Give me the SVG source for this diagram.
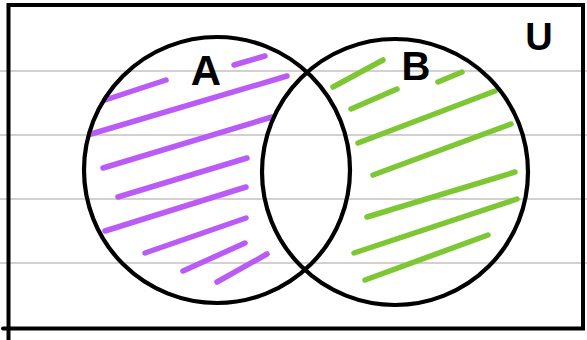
<svg xmlns="http://www.w3.org/2000/svg" width="587" height="340" viewBox="0 0 587 340">
  <style>
    .rule { stroke: #c8bfbf; stroke-width: 1.6; }
    .frame { fill: none; stroke: #000; stroke-width: 4; stroke-linecap: round; }
    .set { fill: none; stroke: #000; stroke-width: 4.2; }
    .hatchA line { stroke: #bb5bf5; stroke-width: 5.5; stroke-linecap: round; }
    .hatchB line { stroke: #7cc733; stroke-width: 5.5; stroke-linecap: round; }
    .lbl { font-family: "Liberation Sans", Arial, sans-serif; font-weight: bold; fill: #000; text-anchor: middle; }
  </style>
  <rect width="587" height="340" fill="#fff"/>
  <g id="ruled-lines">
    <line class="rule" x1="0" y1="71" x2="587" y2="71"/>
    <line class="rule" x1="0" y1="135" x2="587" y2="135"/>
    <line class="rule" x1="0" y1="199" x2="587" y2="199"/>
    <line class="rule" x1="0" y1="263" x2="587" y2="263"/>
  </g>
  <g id="universe">
    <path class="frame" d="M8.5 340 V5 H583 V328.5 H3"/>
    <text class="lbl" x="539" y="50" font-size="38">U</text>
  </g>
  <g id="set-A-hatch" class="hatchA">
    <line x1="105" y1="100" x2="166" y2="80"/>
    <line x1="234" y1="65" x2="265" y2="56"/>
    <line x1="91" y1="134" x2="287" y2="76"/>
    <line x1="103" y1="168" x2="272" y2="117"/>
    <line x1="118" y1="197" x2="247" y2="158"/>
    <line x1="105" y1="231" x2="246" y2="187"/>
    <line x1="145" y1="253" x2="246" y2="218"/>
    <line x1="183" y1="271" x2="245" y2="243"/>
    <line x1="217" y1="282" x2="267" y2="254"/>
  </g>
  <g id="set-B-hatch" class="hatchB">
    <line x1="333" y1="87" x2="383" y2="60"/>
    <line x1="351" y1="109" x2="397" y2="89"/>
    <line x1="438" y1="82" x2="462" y2="72"/>
    <line x1="358" y1="143" x2="495" y2="91"/>
    <line x1="373" y1="175" x2="511" y2="124"/>
    <line x1="367" y1="217" x2="515" y2="172"/>
    <line x1="354" y1="253" x2="517" y2="199"/>
    <line x1="365" y1="280" x2="488" y2="235"/>
  </g>
  <g id="set-A">
    <circle class="set" cx="217" cy="170" r="133"/>
    <text class="lbl" x="206" y="85" font-size="42">A</text>
  </g>
  <g id="set-B">
    <circle class="set" cx="395" cy="172" r="133"/>
    <text class="lbl" x="416" y="80" font-size="40">B</text>
  </g>
</svg>
